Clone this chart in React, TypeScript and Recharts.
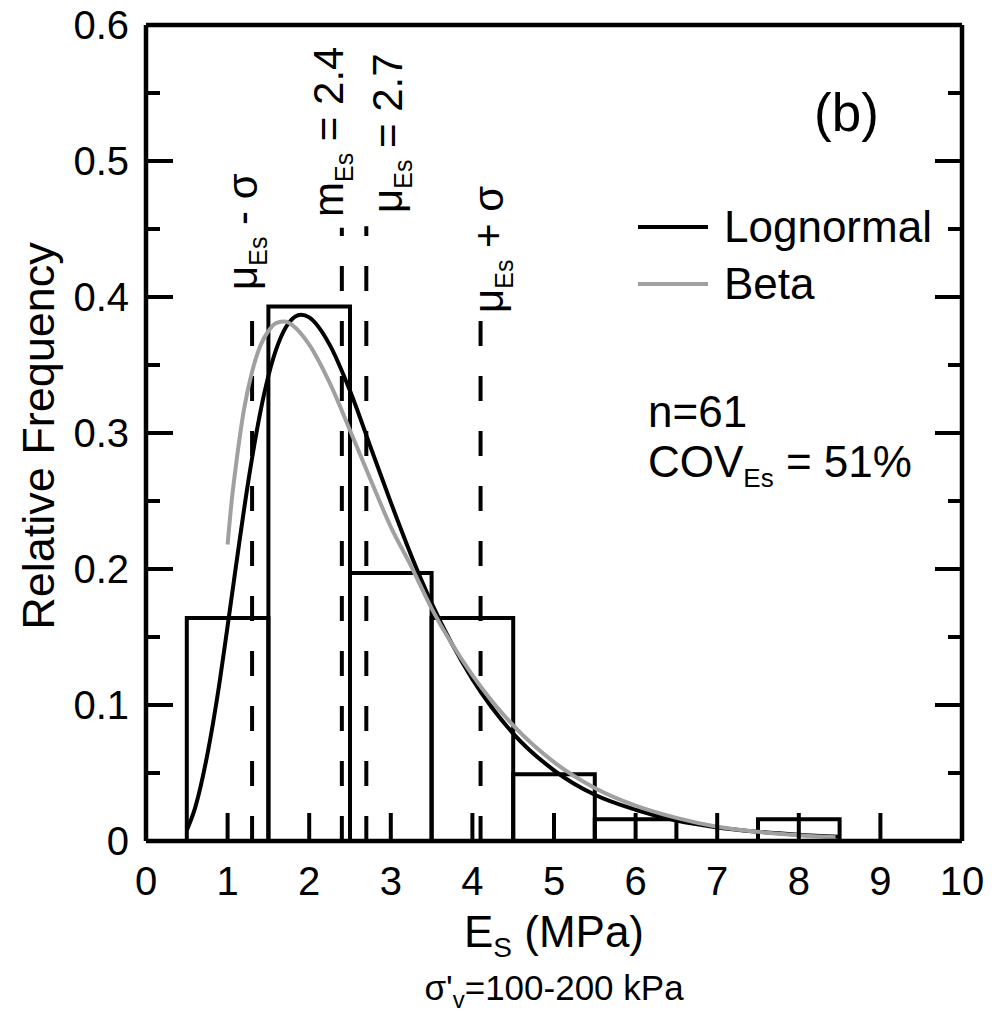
import React from 'react';
import { ComposedChart, Line, XAxis, YAxis, ReferenceArea, ReferenceLine } from 'recharts';

// histogram bins (width 1, centred on integers)
const binCenters = [1, 2, 3, 4, 5, 6, 7, 8];
const binFreq = [0.164, 0.393, 0.197, 0.164, 0.049, 0.016, 0, 0.016];

// fitted curves
const lognormX = [0.5, 0.6, 0.75, 0.9, 1.0, 1.1, 1.25, 1.4, 1.5, 1.75, 1.9, 2.0, 2.25, 2.5, 2.75, 3.0, 3.25, 3.5, 4.0, 4.5, 5.0, 5.5, 6.0, 6.5, 7.0, 7.5, 8.0, 8.5];
const lognormY = [0.008, 0.024, 0.063, 0.116, 0.158, 0.201, 0.263, 0.315, 0.342, 0.381, 0.387, 0.385, 0.365, 0.331, 0.290, 0.249, 0.210, 0.175, 0.119, 0.079, 0.052, 0.034, 0.023, 0.015, 0.010, 0.0068, 0.0046, 0.0031];

const betaX = [1.0, 1.05, 1.1, 1.2, 1.3, 1.4, 1.5, 1.6, 1.7, 1.8, 2.0, 2.25, 2.5, 2.75, 3.0, 3.25, 3.5, 4.0, 4.5, 5.0, 5.5, 6.0, 6.5, 7.0, 7.5, 8.0, 8.45];
const betaY = [0.218, 0.250, 0.275, 0.317, 0.345, 0.364, 0.375, 0.381, 0.382, 0.379, 0.365, 0.337, 0.302, 0.266, 0.231, 0.202, 0.171, 0.122, 0.085, 0.058, 0.039, 0.026, 0.017, 0.0105, 0.0068, 0.0043, 0.0027];

// mu - sigma, median, mean, mu + sigma
const statX = [1.3, 2.4, 2.7, 4.1];
const statTop = [0.39, 0.451, 0.452, 0.388];

const xTicks = [0, 1, 2, 3, 4, 5, 6, 7, 8, 9, 10];
const xTopTicks = [0, 0.5, 1, 1.5, 2, 2.5, 3, 3.5, 4, 4.5, 5, 5.5, 6, 6.5, 7, 7.5, 8, 8.5, 9, 9.5, 10];
const yTicks = [0, 0.05, 0.1, 0.15, 0.2, 0.25, 0.3, 0.35, 0.4, 0.45, 0.5, 0.55, 0.6];

const lognormData = lognormX.map((x, i) => ({ x, y: lognormY[i] }));
const betaData = betaX.map((x, i) => ({ x, y: betaY[i] }));

const FONT = '"Liberation Sans", Arial, sans-serif';
const SW = 4;
const AXIS_SW = 4.5;
const isMajorY = (v: number) => Math.round(v * 100) % 10 === 0;

const BottomTick = (props: any) => {
  const { x, y, payload } = props;
  return (
    <g>
      <line x1={x} x2={x} y1={y} y2={y - 28} stroke="#000" strokeWidth={SW} />
      <text x={x} y={y + 54} textAnchor="middle" fontSize={40} fontFamily={FONT} fill="#000">
        {payload.value}
      </text>
    </g>
  );
};

const TopTick = (props: any) => {
  const { x, y, payload } = props;
  const len = Number.isInteger(payload.value) ? 27 : 14;
  return <line x1={x} x2={x} y1={y} y2={y + len} stroke="#000" strokeWidth={SW} />;
};

const LeftTick = (props: any) => {
  const { x, y, payload } = props;
  const major = isMajorY(payload.value);
  return (
    <g>
      <line x1={x} x2={x + (major ? 27 : 14)} y1={y} y2={y} stroke="#000" strokeWidth={SW} />
      {major && (
        <text x={x - 17} y={y + 14} textAnchor="end" fontSize={40} fontFamily={FONT} fill="#000">
          {payload.value === 0 ? '0' : payload.value.toFixed(1)}
        </text>
      )}
    </g>
  );
};

const RightTick = (props: any) => {
  const { x, y, payload } = props;
  const len = isMajorY(payload.value) ? 27 : 14;
  return <line x1={x} x2={x - len} y1={y} y2={y} stroke="#000" strokeWidth={SW} />;
};

const Annotations = () => (
  <g fontFamily={FONT} fill="#000">
    {/* rotated stat labels */}
    <text transform="translate(257,290) rotate(-90)" fontSize={42}>
      μ<tspan fontSize={25} dy={10}>Es</tspan>
      <tspan dy={-10}> - σ</tspan>
    </text>
    <text transform="translate(343,217) rotate(-90)" fontSize={42}>
      m<tspan fontSize={25} dy={10}>Es</tspan>
      <tspan dy={-10}> = 2.4</tspan>
    </text>
    <text transform="translate(402,213) rotate(-90)" fontSize={42}>
      μ<tspan fontSize={25} dy={10}>Es</tspan>
      <tspan dy={-10}> = 2.7</tspan>
    </text>
    <text transform="translate(503,313) rotate(-90)" fontSize={42}>
      μ<tspan fontSize={25} dy={10}>Es</tspan>
      <tspan dy={-10}> + σ</tspan>
    </text>

    <text x={814} y={131} fontSize={53}>(b)</text>

    {/* legend */}
    <line x1={638} x2={708} y1={227} y2={227} stroke="#000" strokeWidth={SW} />
    <text x={724} y={242} fontSize={44}>Lognormal</text>
    <line x1={638} x2={708} y1={284} y2={284} stroke="#a0a0a0" strokeWidth={SW} />
    <text x={724} y={299} fontSize={44}>Beta</text>

    <text x={648} y={427} fontSize={44}>n=61</text>
    <text x={648} y={477} fontSize={44}>
      COV<tspan fontSize={26} dy={10}>Es</tspan>
      <tspan dy={-10}> = 51%</tspan>
    </text>

    {/* axis titles */}
    <text transform="translate(54,436) rotate(-90)" textAnchor="middle" fontSize={45}>
      Relative Frequency
    </text>
    <text x={554} y={947} textAnchor="middle" fontSize={44}>
      E<tspan fontSize={28} dy={10}>S</tspan>
      <tspan dy={-10}> (MPa)</tspan>
    </text>
    <text x={554} y={1000} textAnchor="middle" fontSize={35}>
      σ'<tspan fontSize={24} dy={8}>v</tspan>
      <tspan dy={-8}>=100-200 kPa</tspan>
    </text>
  </g>
);

export default function App() {
  return (
    <div style={{ position: 'absolute', left: 0, top: 0, background: '#fff' }}>
      <ComposedChart width={1004} height={1012} margin={{ top: 0, right: 0, bottom: 0, left: 0 }}>
        <XAxis
          xAxisId="b"
          dataKey="x"
          type="number"
          domain={[0, 10]}
          ticks={xTicks}
          interval={0}
          height={171}
          tickSize={0}
          tickMargin={0}
          tickLine={false}
          tick={BottomTick}
          axisLine={{ stroke: '#000', strokeWidth: AXIS_SW }}
          allowDataOverflow
        />
        <XAxis
          xAxisId="t"
          orientation="top"
          type="number"
          domain={[0, 10]}
          ticks={xTopTicks}
          interval={0}
          height={25}
          tickSize={0}
          tickMargin={0}
          tickLine={false}
          tick={TopTick}
          axisLine={{ stroke: '#000', strokeWidth: AXIS_SW }}
          allowDataOverflow
        />
        <YAxis
          yAxisId="l"
          type="number"
          domain={[0, 0.6]}
          ticks={yTicks}
          interval={0}
          width={146}
          tickSize={0}
          tickMargin={0}
          tickLine={false}
          tick={LeftTick}
          axisLine={{ stroke: '#000', strokeWidth: AXIS_SW }}
          allowDataOverflow
        />
        <YAxis
          yAxisId="r"
          orientation="right"
          type="number"
          domain={[0, 0.6]}
          ticks={yTicks}
          interval={0}
          width={42}
          tickSize={0}
          tickMargin={0}
          tickLine={false}
          tick={RightTick}
          axisLine={{ stroke: '#000', strokeWidth: AXIS_SW }}
          allowDataOverflow
        />

        {binCenters.map((c, i) =>
          binFreq[i] > 0 ? (
            <ReferenceArea
              key={`bin-${c}`}
              xAxisId="b"
              yAxisId="l"
              x1={c - 0.5}
              x2={c + 0.5}
              y1={0}
              y2={binFreq[i]}
              fill="none"
              fillOpacity={0}
              stroke="#000"
              strokeWidth={SW}
            />
          ) : null
        )}

        {statX.map((sx, i) => (
          <ReferenceLine
            key={`stat-${i}`}
            xAxisId="b"
            yAxisId="l"
            segment={[{ x: sx, y: 0 }, { x: sx, y: statTop[i] }]}
            stroke="#000"
            strokeWidth={SW}
            strokeDasharray="25 30"
          />
        ))}

        <Line
          xAxisId="b"
          yAxisId="l"
          data={lognormData}
          dataKey="y"
          type="monotone"
          stroke="#000"
          strokeWidth={SW}
          dot={false}
          isAnimationActive={false}
        />
        <Line
          xAxisId="b"
          yAxisId="l"
          data={betaData}
          dataKey="y"
          type="monotone"
          stroke="#a0a0a0"
          strokeWidth={SW}
          dot={false}
          isAnimationActive={false}
        />

        <Annotations />
      </ComposedChart>
    </div>
  );
}
